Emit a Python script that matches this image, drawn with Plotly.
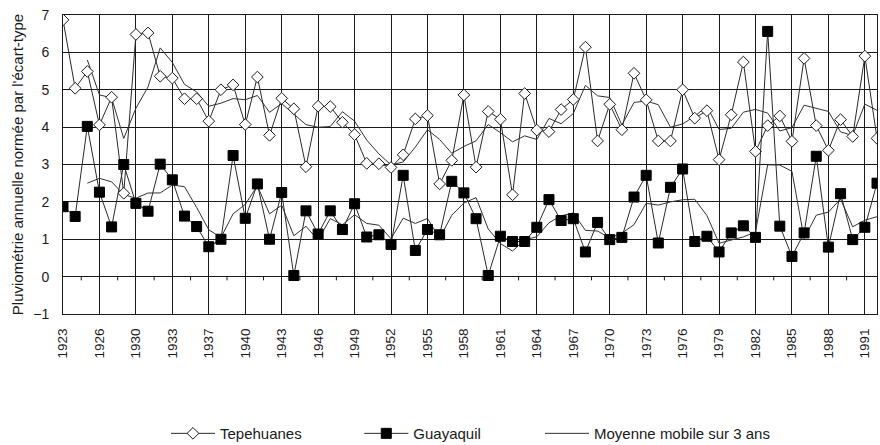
import pandas as pd
import plotly.graph_objects as go

# Category axis (years as printed; two years are absent from the record)
years = ["1923", "1924", "1925", "1926", "1927", "1928", "1930", "1931", "1932", "1933",
         "1934", "1935", "1937", "1938", "1939", "1940", "1941", "1942", "1943", "1944",
         "1945", "1946", "1947", "1948", "1949", "1950", "1951", "1952", "1953", "1954",
         "1955", "1956", "1957", "1958", "1959", "1960", "1961", "1962", "1963", "1964",
         "1965", "1966", "1967", "1968", "1969", "1970", "1971", "1972", "1973", "1974",
         "1975", "1976", "1977", "1978", "1979", "1980", "1981", "1982", "1983", "1984",
         "1985", "1986", "1987", "1988", "1989", "1990", "1991", "1992"]

tepehuanes = [6.87, 5.04, 5.49, 4.06, 4.80, 2.23, 6.48, 6.52, 5.36, 5.31,
              4.76, 4.76, 4.16, 5.00, 5.13, 4.07, 5.34, 3.78, 4.77, 4.49,
              2.94, 4.56, 4.55, 4.13, 3.80, 3.03, 3.02, 2.92, 3.26, 4.22,
              4.31, 2.48, 3.11, 4.86, 2.93, 4.42, 4.21, 2.19, 4.90, 3.92,
              3.88, 4.47, 4.74, 6.14, 3.63, 4.61, 3.93, 5.44, 4.73, 3.63,
              3.63, 5.00, 4.24, 4.44, 3.13, 4.33, 5.74, 3.35, 4.04, 4.30,
              3.62, 5.84, 4.04, 3.38, 4.20, 3.75, 5.90, 3.70]

guayaquil = [1.87, 1.61, 4.02, 2.26, 1.33, 3.00, 1.96, 1.75, 3.01, 2.59,
             1.62, 1.34, 0.80, 1.00, 3.24, 1.56, 2.48, 1.00, 2.25, 0.03,
             1.76, 1.14, 1.76, 1.26, 1.95, 1.06, 1.12, 0.86, 2.71, 0.70,
             1.26, 1.12, 2.55, 2.24, 1.55, 0.03, 1.08, 0.94, 0.94, 1.32,
             2.06, 1.50, 1.55, 0.66, 1.45, 0.99, 1.05, 2.13, 2.71, 0.90,
             2.39, 2.88, 0.94, 1.08, 0.66, 1.17, 1.36, 1.05, 6.56, 1.35,
             0.54, 1.17, 3.22, 0.79, 2.22, 0.99, 1.32, 2.50]

tick_labels = ["1923", "1926", "1930", "1933", "1937", "1940", "1943", "1946", "1949",
               "1952", "1955", "1958", "1961", "1964", "1967", "1970", "1973", "1976",
               "1979", "1982", "1985", "1988", "1991"]

y_ticks = [-1, 0, 1, 2, 3, 4, 5, 6, 7]

# 3-year moving averages (as drawn by the original trendlines)
tep_ma = pd.Series(tepehuanes).rolling(3).mean()
gua_ma = pd.Series(guayaquil).rolling(3).mean()

FONT = "Liberation Sans, Arial, sans-serif"
INK = "#1a1a1a"

fig = go.Figure()

fig.add_trace(go.Scatter(
    x=years, y=tep_ma, mode="lines", name="Moyenne mobile sur 3 ans",
    line=dict(color="#333333", width=1), legend="legend3", showlegend=True,
    hoverinfo="skip"))
fig.add_trace(go.Scatter(
    x=years, y=gua_ma, mode="lines", name="Moyenne mobile sur 3 ans",
    line=dict(color="#333333", width=1), legend="legend3", showlegend=False,
    hoverinfo="skip"))

fig.add_trace(go.Scatter(
    x=years, y=tepehuanes, mode="lines+markers", name="Tepehuanes",
    line=dict(color="#2a2a2a", width=1),
    marker=dict(symbol="diamond", size=9, color="white",
                line=dict(color=INK, width=1)),
    legend="legend", showlegend=True))
fig.add_trace(go.Scatter(
    x=years, y=guayaquil, mode="lines+markers", name="Guayaquil",
    line=dict(color="#2a2a2a", width=1),
    marker=dict(symbol="square", size=10, color="black",
                line=dict(color="black", width=1)),
    legend="legend2", showlegend=True))

# small tick marks on the zero line, midway between labelled categories
n = len(years)
for k in range(len(tick_labels)):
    pos = 3 * k + 1.5
    if pos < n - 1:
        fig.add_shape(type="line", xref="x", yref="y", x0=pos, x1=pos, y0=0, y1=-0.1,
                      line=dict(color=INK, width=1))

legend_common = dict(orientation="h", yanchor="middle", xanchor="left",
                     bgcolor="rgba(0,0,0,0)", font=dict(family=FONT, size=15, color=INK),
                     itemwidth=44, tracegroupgap=0, visible=True)

fig.update_layout(
    width=880, height=445, autosize=False,
    margin=dict(l=63, r=3, t=15, b=131, autoexpand=False),
    paper_bgcolor="white", plot_bgcolor="white",
    font=dict(family=FONT, size=13, color=INK),
    showlegend=True,
    legend=dict(x=0.1265, y=-0.40, **legend_common),
    legend2=dict(x=0.364, y=-0.40, **legend_common),
    legend3=dict(x=0.586, y=-0.40, **legend_common),
    xaxis=dict(
        type="category", categoryorder="array", categoryarray=years,
        range=[0, n - 1], tickmode="array", tickvals=tick_labels, ticktext=tick_labels,
        tickangle=-90, showgrid=True, gridcolor=INK, gridwidth=1,
        showline=True, mirror=True, linecolor=INK, linewidth=1, ticks="",
        ticklabelstandoff=8,
        tickfont=dict(family=FONT, size=13.5, color=INK), automargin=False),
    yaxis=dict(
        range=[-1, 7], tickmode="array", tickvals=y_ticks, showgrid=True,
        gridcolor=INK, gridwidth=1, zeroline=True, zerolinecolor=INK, zerolinewidth=1,
        showline=True, mirror=True, linecolor=INK, linewidth=1, ticks="",
        ticklabelstandoff=10,
        tickfont=dict(family=FONT, size=14, color=INK), automargin=False,
        title=dict(text="Pluviométrie annuelle normée par l'écart-type",
                   font=dict(family=FONT, size=15, color=INK), standoff=5)),
)

fig.write_html("out.html")
